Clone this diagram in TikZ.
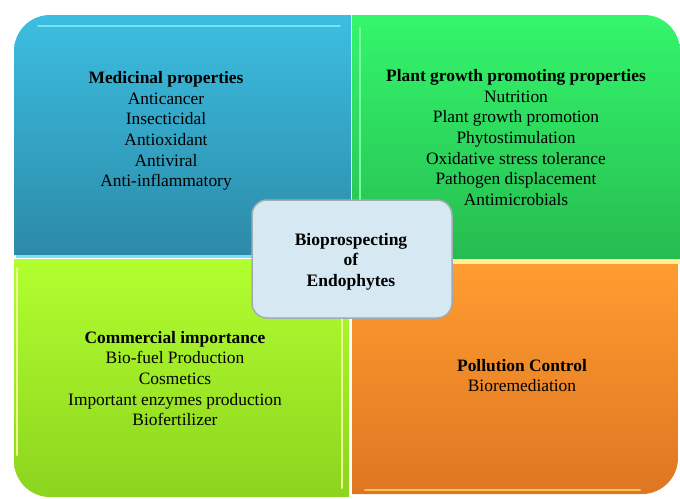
\documentclass[tikz,border=0pt]{standalone}
\usepackage{fontspec}
\setmainfont{Liberation Serif}
\definecolor{bluetop}{RGB}{60,190,225}
\definecolor{bluebot}{RGB}{44,138,168}
\definecolor{greentop}{RGB}{52,246,108}
\definecolor{greenbot}{RGB}{38,188,80}
\definecolor{limetop}{RGB}{178,255,48}
\definecolor{limebot}{RGB}{140,212,30}
\definecolor{orangetop}{RGB}{255,156,48}
\definecolor{orangebot}{RGB}{222,118,34}
\definecolor{centerfill}{RGB}{214,233,242}
\definecolor{centerline}{RGB}{160,172,180}
\definecolor{hlcyan}{RGB}{120,225,245}
\definecolor{hlyellow}{RGB}{255,240,150}
\definecolor{hllime}{RGB}{235,255,140}
\definecolor{hlgreen}{RGB}{120,255,160}
\tikzset{
  quadtext/.style={align=center, inner sep=0pt, text=black,
    font=\fontsize{17.4}{20.7}\selectfont},
  centerbox/.style={draw=centerline, line width=1.5pt, fill=centerfill,
    rounded corners=15pt, minimum width=200pt, minimum height=118pt,
    inner sep=0pt},
  centertext/.style={align=center, inner sep=0pt, text=black,
    font=\fontsize{17.5}{20.5}\selectfont\bfseries},
}
\begin{document}
\begin{tikzpicture}[x=1pt,y=-1pt]
\useasboundingbox (0,0) rectangle (680,498);
% quadrants
\shade[top color=bluetop, bottom color=bluebot]
  (351,255) -- (14,255) -- (14,51) arc(180:270:36) -- (351,15) -- cycle;
\shade[top color=greentop, bottom color=greenbot]
  (352,15) -- (644,15) arc(270:360:36) -- (680,259) -- (352,259) -- cycle;
\shade[top color=limetop, bottom color=limebot]
  (14,259) -- (349,259) -- (349,497) -- (50,497) arc(90:180:36) -- cycle;
\shade[top color=orangetop, bottom color=orangebot]
  (352,264) -- (678,264) -- (678,458) arc(0:90:36) -- (352,494) -- cycle;
% bevel highlights
\draw[hlcyan, line width=2pt, line cap=round] (38,26) -- (340,26);
\draw[hlcyan, line width=2.5pt] (16,256.5) -- (351,256.5);
\draw[hlgreen, line width=2pt, line cap=round] (360,28) -- (360,248);
\draw[hlyellow, line width=4pt] (352,261.5) -- (680,261.5);
\draw[hllime, line width=2pt, line cap=round] (342,268) -- (342,488);
\draw[hllime, line width=2pt, line cap=round] (17,268) -- (17,455);
\draw[orangetop!60!hlyellow, line width=2pt, line cap=round] (365,490) -- (640,490);
% texts
\node[quadtext] (med) at (166,131)
  {\textbf{Medicinal properties}\\Anticancer\\Insecticidal\\Antioxidant\\Antiviral\\Anti-inflammatory};
\node[quadtext] (plant) at (516,137.5)
  {\textbf{Plant growth promoting properties}\\Nutrition\\Plant growth promotion\\Phytostimulation\\Oxidative stress tolerance\\Pathogen displacement\\Antimicrobials};
\node[quadtext] (comm) at (175,378.5)
  {\textbf{Commercial importance}\\Bio-fuel Production\\Cosmetics\\Important enzymes production\\Biofertilizer};
\node[quadtext] (poll) at (522,375.5)
  {\textbf{Pollution Control}\\Bioremediation};
% centre
\node[centerbox] (center) at (352,259) {};
\node[centertext] (centerlabel) at (351,261.5) {Bioprospecting\\of\\Endophytes};
\end{tikzpicture}
\end{document}
